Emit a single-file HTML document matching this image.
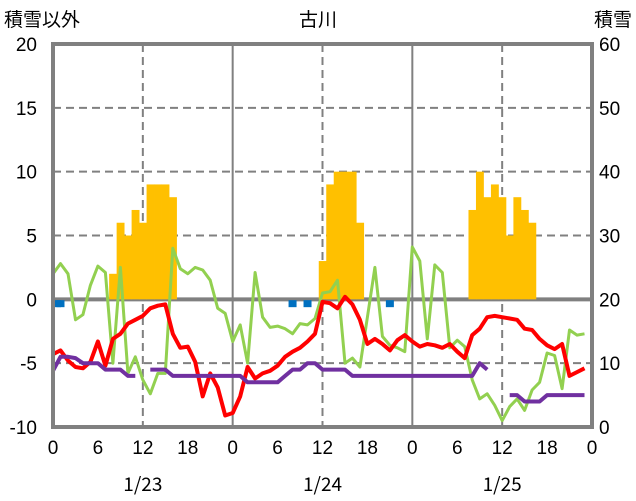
<!DOCTYPE html>
<html><head><meta charset="utf-8">
<style>
body{margin:0;background:#fff;}
svg{display:block;font-family:"Liberation Sans","Noto Sans CJK JP",sans-serif;}
</style></head>
<body>
<svg id="chart" width="636" height="501" viewBox="0 0 636 501" xmlns="http://www.w3.org/2000/svg">
<text x="318" y="26" font-size="19" text-anchor="middle">古川</text>
<text x="4" y="26" font-size="19">積雪以外</text>
<text x="632" y="26" font-size="19" text-anchor="end">積雪</text>
<g id="grid"></g>
<g id="bars"></g>
<g id="lines"></g>
<g id="axes"></g>
</svg>
<script>
const leftTicks=[-10,-5,0,5,10,15,20];
const rightTicks=[0,10,20,30,40,50,60];
const xTickLabels=["0","6","12","18","0","6","12","18","0","6","12","18","0"];
const dateLabels=["1/23","1/24","1/25"];
const snowHours=[8,9,10,11,12,13,14,15,16,36,37,38,39,40,41,56,57,58,59,60,61,62,63,64];
const snowValues=[24,32,30,34,32,38,38,38,36,26,38,40,40,40,32,34,40,36,38,36,30,36,34,32];
const redValues=[-4.3,-4.0,-4.8,-5.3,-5.4,-4.9,-3.3,-5.2,-3.1,-2.7,-1.9,-1.6,-1.3,-0.7,-0.5,-0.4,-2.7,-3.8,-3.7,-4.9,-7.6,-5.8,-6.9,-9.1,-8.9,-7.6,-5.3,-6.2,-5.8,-5.6,-5.2,-4.5,-4.1,-3.8,-3.3,-2.7,-0.2,-0.3,-0.7,0.2,-0.4,-1.6,-3.5,-3.1,-3.5,-4.0,-3.2,-2.8,-3.3,-3.7,-3.5,-3.6,-3.8,-3.5,-4.1,-4.6,-2.8,-2.3,-1.4,-1.3,-1.4,-1.5,-1.6,-2.3,-2.4,-3.1,-3.6,-3.9,-3.5,-6.0,-5.7,-5.4];
const greenValues=[2.0,2.8,2.0,-1.6,-1.2,1.1,2.6,2.1,-5.0,2.5,-5.8,-4.5,-6.3,-7.4,-5.8,-5.8,4.0,2.4,2.0,2.5,2.3,1.5,-0.7,-1.1,-3.3,-2.0,-5.0,2.1,-1.4,-2.2,-2.1,-2.3,-2.7,-1.9,-2.0,-1.5,0.5,0.6,1.5,-5.0,-4.6,-5.3,-1.4,2.5,-2.9,-3.6,-3.8,-4.1,4.1,3.0,-3.1,2.7,2.1,-3.8,-3.2,-3.7,-6.3,-7.8,-7.4,-8.3,-9.5,-8.4,-7.8,-8.7,-7.1,-6.5,-4.2,-4.4,-7.0,-2.4,-2.8,-2.7];
const purpleValues=[-5.6,-4.5,-4.5,-4.6,-5.0,-5.0,-5.0,-5.5,-5.5,-5.5,-6.0,-6.0,null,-5.5,-5.5,-5.5,-6.0,-6.0,-6.0,-6.0,-6.0,-6.0,-6.0,-6.0,-6.0,-6.0,-6.5,-6.5,-6.5,-6.5,-6.5,-6.0,-5.5,-5.5,-5.0,-5.0,-5.5,-5.5,-5.5,-5.5,-6.0,-6.0,-6.0,-6.0,-6.0,-6.0,-6.0,-6.0,-6.0,-6.0,-6.0,-6.0,-6.0,-6.0,-6.0,-6.0,-6.0,-5.0,-5.5,null,null,-7.5,-7.5,-8.0,-8.0,-8.0,-7.5,-7.5,-7.5,-7.5,-7.5,-7.5];
const blueHours=[0,1,32,34,45];
const blueValues=[-0.3,-0.3,-0.3,-0.3,-0.3];

const L=53,R=592,T=44,B=427;
const NS='http://www.w3.org/2000/svg';
function x(h){return L+(R-L)*h/72;}
function yl(v){return B-(v+10)/30*(B-T);}
function yr(v){return B-v/60*(B-T);}
function mk(tag,attrs,parent){const e=document.createElementNS(NS,tag);for(const k in attrs)e.setAttribute(k,attrs[k]);parent.appendChild(e);return e;}
const grid=document.getElementById('grid'),bars=document.getElementById('bars'),lines=document.getElementById('lines'),axes=document.getElementById('axes');

leftTicks.forEach(v=>{
  if(v===-10||v===20)return;
  const ln=mk('line',{x1:L,x2:R,y1:yl(v),y2:yl(v),stroke:'#808080','stroke-width':v===0?4:2,'stroke-dasharray':v===0?'none':'8,5'},grid);
  
  
});
for(let i=1;i<6;i++){
  const h=i*12;
  const ln=mk('line',{x1:x(h),x2:x(h),y1:T,y2:B,stroke:'#808080','stroke-width':2,'stroke-dasharray':i%2===0?'none':'8,5'},grid);
  
  
}

snowHours.forEach((h,i)=>{
  const w=(R-L)/72;
  const r=mk('rect',{x:x(h)-w/2,y:yr(snowValues[i]),width:w+0.4,height:yr(20)-yr(snowValues[i]),fill:'#FFC000'},bars);
  
  
});

function drawLine(vals,color,width,name){
  let d='',pen=false;
  vals.forEach((v,h)=>{
    if(v===null){pen=false;return;}
    d+=(pen?'L':'M')+x(h).toFixed(1)+','+yl(v).toFixed(1);
    pen=true;
  });
  const p=mk('path',{d:d,fill:'none',stroke:color,'stroke-width':width,'stroke-linejoin':'round'},lines);
  
  
}
drawLine(greenValues,'#92D050',3,'green-series');
drawLine(redValues,'#FF0000',4,'red-series');
drawLine(purpleValues,'#7030A0',4,'purple-series');

blueHours.forEach((h,i)=>{
  const r=mk('rect',{x:Math.max(L,x(h)-4),y:yl(blueValues[i])-3,width:8,height:7,fill:'#0070C0'},lines);
  
  
});

const frame=mk('rect',{x:L,y:T,width:R-L,height:B-T,fill:'none',stroke:'#808080','stroke-width':4},axes);



leftTicks.forEach(v=>{
  const t=mk('text',{x:37,y:yl(v)+7,'font-size':19,'text-anchor':'end'},axes);
  t.textContent=String(v);
  
  
});
rightTicks.forEach(v=>{
  const t=mk('text',{x:599,y:yr(v)+7,'font-size':19},axes);
  t.textContent=String(v);
  
  
});
xTickLabels.forEach((s,i)=>{
  const t=mk('text',{x:x(i*6),y:454,'font-size':19,'text-anchor':'middle'},axes);
  t.textContent=s;
  
  
});
dateLabels.forEach((s,i)=>{
  const t=mk('text',{x:x(12+24*i),y:491,'font-size':19,'text-anchor':'middle','font-family':'"Noto Sans CJK JP",sans-serif'},axes);
  t.textContent=s;
  
  
});
</script>
</body></html>
